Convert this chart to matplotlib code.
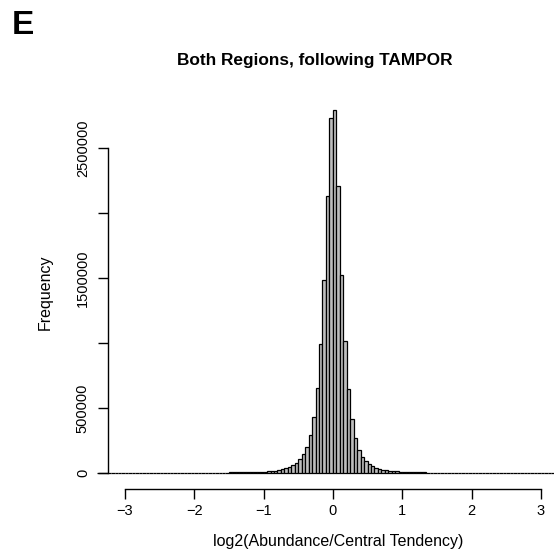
import numpy as np
import matplotlib
matplotlib.use("Agg")
import matplotlib.pyplot as plt

plt.rcParams['font.family'] = ['Liberation Sans', 'DejaVu Sans']

####### histogram counts (thousands), bins of width 0.05 starting at -3.40 #######
BIN_START = -3.40
BIN_WIDTH = 0.05

tail_left = [0.1, 0.1, 0.1, 0.1, 0.1, 0.2, 0.2, 0.2, 0.2, 0.3, 0.3, 0.3, 0.4, 0.4,
             0.5, 0.5, 0.6, 0.6, 0.7, 0.8, 0.9, 1.0, 1.1, 1.2, 1.3, 1.5, 1.6, 1.8]
shoulder_left = [2.0, 2.2, 2.4, 2.6, 2.8, 3.0, 3.2, 3.4, 3.6, 3.8,
                 4.1, 4.4, 4.7, 5.0, 5.4, 5.8, 6.3, 6.9, 7.6, 8.6]
core_left = [10, 12, 15, 18, 23, 31, 38, 49, 62, 79,
             105, 144, 202, 292, 433, 652, 990, 1485, 2130, 2728]
core_right = [2796, 2210, 1520, 1018, 646, 415, 270, 177, 125, 90,
              69, 54, 42, 33, 27, 22, 18, 14.5, 12, 10]
shoulder_right = [8.5, 7.4, 6.5, 5.8, 5.2, 4.7, 4.3, 3.9, 3.6, 3.3,
                  3.0, 2.8, 2.6, 2.4, 2.2, 2.0, 1.9, 1.7, 1.6, 1.5]
tail_right = [1.4, 1.3, 1.2, 1.1, 1.0, 0.9, 0.8, 0.7, 0.7, 0.6, 0.6, 0.5, 0.5, 0.4,
              0.4, 0.4, 0.3, 0.3, 0.3, 0.3, 0.2, 0.2, 0.2, 0.2, 0.1, 0.1, 0.1, 0.1]

counts = np.array(tail_left + shoulder_left + core_left + core_right
                  + shoulder_right + tail_right) * 1000
edges = BIN_START + BIN_WIDTH * np.arange(len(counts) + 1)

y_ticks = [0, 500000, 1000000, 1500000, 2000000, 2500000]
y_tick_labels = ["0", "500000", "", "1500000", "", "2500000"]
x_ticks = [-3, -2, -1, 0, 1, 2, 3]
x_tick_labels = ["\u22123", "\u22122", "\u22121", "0", "1", "2", "3"]


##########################################################################################
fig = plt.figure(figsize=(5.54, 5.54), dpi=100)
ax = fig.add_axes([100/554, 65/554, 454/554, 394/554])

ax.bar(edges[:-1], counts, width=BIN_WIDTH, align='edge',
       color='#BEBEBE', edgecolor='black', linewidth=0.9, clip_on=False)

ax.set_xlim(-3.36, 3.19)
ax.set_ylim(-123000, 2908000)

# R-style detached axes
for side in ['top', 'right']:
    ax.spines[side].set_visible(False)
ax.spines['left'].set_position(('data', -3.245))
ax.spines['left'].set_bounds(0, 2500000)
ax.spines['bottom'].set_bounds(-3, 3)
for side in ['left', 'bottom']:
    ax.spines[side].set_linewidth(1.0)

ax.set_yticks(y_ticks)
ax.set_yticklabels(y_tick_labels, rotation=90, va='center')
ax.set_xticks(x_ticks)
ax.set_xticklabels(x_tick_labels)
ax.tick_params(direction='out', length=7, width=1.0, labelsize=10.5, pad=4)
ax.tick_params(axis='y', pad=6)

ax.set_xlabel("log2(Abundance/Central Tendency)", fontsize=11.5)
ax.xaxis.set_label_coords((338 - 100) / 454, -45 / 394)
ax.set_ylabel("Frequency", fontsize=11.5, labelpad=17)

fig.text(315/554, 1 - 60/554, "Both Regions, following TAMPOR",
         ha='center', va='center', fontsize=12.4, fontweight='bold')
fig.text(12/554, 1 - 25/554, "E", ha='left', va='center',
         fontsize=24, fontweight='bold')

fig.savefig("out.png", dpi=100)
